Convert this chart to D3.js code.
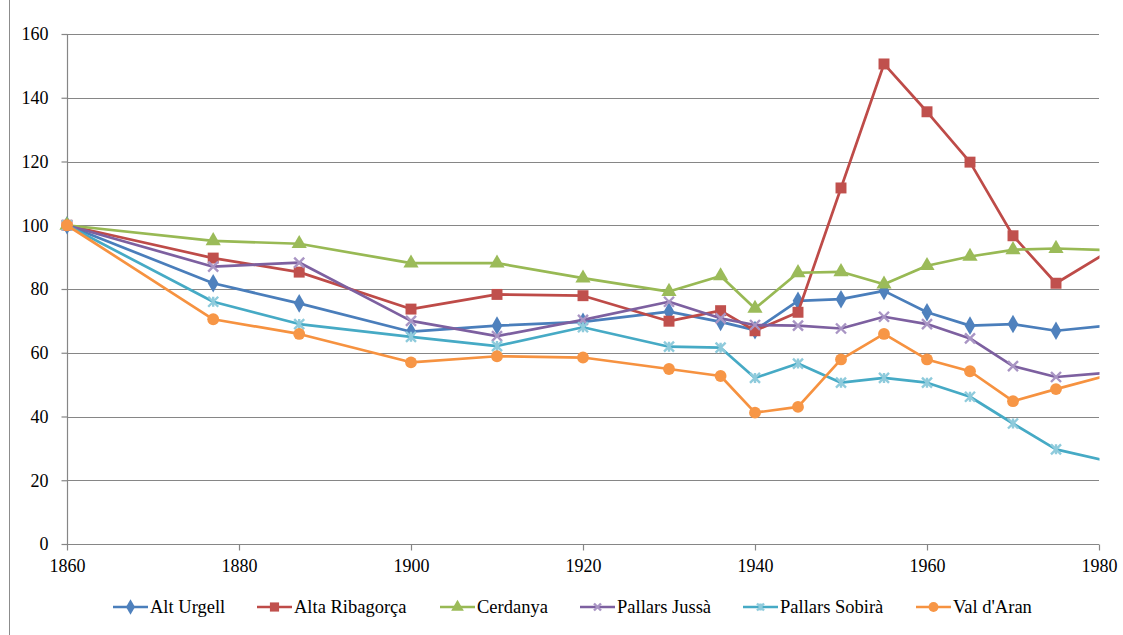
<!DOCTYPE html>
<html>
<head>
<meta charset="utf-8">
<script src="https://cdn.jsdelivr.net/npm/d3@7"></script>
<style>
  body { margin: 0; }
  .serif { font-family: "Liberation Serif", "Times New Roman", Tinos, serif; fill: #000; }
</style>
</head>
<body>
<div id="viz"></div>
<script>
const years = [1860, 1877, 1887, 1900, 1910, 1920, 1930, 1936, 1940, 1945, 1950, 1955, 1960, 1965, 1970, 1975, 1981];

const altUrgell      = [100, 81.8, 75.5, 66.6, 68.5, 69.7, 72.9, 69.7, 67.1, 76.3, 76.8, 79.4, 72.7, 68.5, 69.0, 66.9, 68.5];
const altaRibagorca  = [100, 89.7, 85.3, 73.7, 78.3, 77.9, 69.9, 73.2, 66.9, 72.7, 111.7, 150.6, 135.6, 119.8, 96.7, 81.8, 91.6];
const cerdanya       = [100, 95.1, 94.2, 88.1, 88.1, 83.4, 79.2, 84.1, 73.9, 85.1, 85.4, 81.5, 87.3, 90.2, 92.3, 92.7, 92.2];
const pallarsJussa   = [100, 87.0, 88.3, 70.0, 65.2, 70.3, 76.0, 70.8, 68.7, 68.5, 67.6, 71.3, 69.0, 64.5, 55.8, 52.4, 53.7];
const pallarsSobira  = [100, 76.0, 69.0, 65.0, 62.1, 68.0, 61.9, 61.6, 52.1, 56.6, 50.6, 52.1, 50.6, 46.2, 37.8, 29.7, 26.0];
const valDAran       = [100, 70.5, 65.9, 57.0, 58.9, 58.5, 54.9, 52.7, 41.2, 43.0, 57.9, 65.9, 57.9, 54.2, 44.8, 48.6, 52.9];

const seriesNames = ["Alt Urgell", "Alta Ribagorça", "Cerdanya", "Pallars Jussà", "Pallars Sobirà", "Val d'Aran"];
const seriesValues = [altUrgell, altaRibagorca, cerdanya, pallarsJussa, pallarsSobira, valDAran];
const xTicks = [1860, 1880, 1900, 1920, 1940, 1960, 1980];
const yTicks = [0, 20, 40, 60, 80, 100, 120, 140, 160];

const lineColors   = ["#4A7EBB", "#BE4B48", "#98B954", "#7D60A0", "#46AAC5", "#F69240"];
const markerColors = ["#4F81BD", "#C0504D", "#9BBB59", "#A995C4", "#8FCBDC", "#F79646"];
const markerTypes  = ["diamond", "square", "triangle", "x", "star", "circle"];

// legend item left edges (layout)
const legendOffsets = [113, 257, 440, 580, 743, 916];

const W = 1123, H = 635;
const plotLeft = 67, plotRight = 1099, plotTop = 34, plotBottom = 544;

// text is set large and scaled down
const BASE = 28;

const svg = d3.select("#viz").append("svg")
  .attr("width", W).attr("height", H);

// outer chart border (left edge visible)
svg.append("line")
  .attr("x1", 9.5).attr("x2", 9.5).attr("y1", 0).attr("y2", H)
  .attr("stroke", "#8C8C8C").attr("stroke-width", 1);

const x = d3.scaleLinear().domain([1860, 1980]).range([plotLeft, plotRight]);
const y = d3.scaleLinear().domain([0, 160]).range([plotBottom, plotTop]);

const axisColor = "#868686";

// gridlines
svg.append("g")
  .selectAll("line")
  .data(yTicks.filter(d => d > 0))
  .join("line")
  .attr("x1", plotLeft).attr("x2", plotRight)
  .attr("y1", d => Math.round(y(d)) + 0.5).attr("y2", d => Math.round(y(d)) + 0.5)
  .attr("stroke", axisColor).attr("stroke-width", 1.2);

function serifText(sel, size) {
  const s = size / BASE;
  sel.each(function () {
    const t = d3.select(this);
    const tx = +t.attr("x") || 0, ty = +t.attr("y") || 0;
    t.attr("class", "serif")
      .attr("font-family", "Liberation Serif")
      .attr("font-size", BASE)
      .style("font-size", BASE + "px")
      .attr("x", tx / s).attr("y", ty / s)
      .attr("transform", `scale(${s})`)
      .attr("fill", "#000");
  });
}

// y axis
const yAxis = svg.append("g")
  .attr("transform", `translate(${plotLeft + 0.5},0)`)
  .call(d3.axisLeft(y).tickValues(yTicks).tickSize(6).tickPadding(13));
yAxis.attr("font-family", "Liberation Serif").attr("font-size", BASE);
yAxis.selectAll("line, path").attr("stroke", axisColor).attr("stroke-width", 1.2);
yAxis.select(".domain").attr("d", `M0,${plotTop}V${plotBottom}`);
serifText(yAxis.selectAll("text"), 18);

// x axis
const xAxis = svg.append("g")
  .attr("transform", `translate(0,${plotBottom + 0.5})`)
  .call(d3.axisBottom(x).tickValues(xTicks).tickFormat(d3.format("d")).tickSize(6).tickPadding(9));
xAxis.attr("font-family", "Liberation Serif").attr("font-size", BASE);
xAxis.selectAll("line, path").attr("stroke", axisColor).attr("stroke-width", 1.2);
xAxis.select(".domain").attr("d", `M${plotLeft},0H${plotRight}`);
serifText(xAxis.selectAll("text"), 18);

// clip to plot area
svg.append("clipPath").attr("id", "plotclip")
  .append("rect").attr("x", plotLeft - 10).attr("y", 0).attr("width", plotRight - plotLeft + 10.5).attr("height", H);

const plot = svg.append("g").attr("clip-path", "url(#plotclip)");

const line = d3.line().x(d => x(d.year)).y(d => y(d.value));

function drawMarker(g, type, i, size) {
  const c = markerColors[i];
  if (type === "diamond") {
    g.append("path").attr("d", d3.symbol(d3.symbolDiamond, size * 10)()).attr("fill", c);
  } else if (type === "square") {
    g.append("path").attr("d", d3.symbol(d3.symbolSquare, size * 12)()).attr("fill", c);
  } else if (type === "triangle") {
    g.append("path").attr("d", d3.symbol(d3.symbolTriangle, size * 10)()).attr("fill", c);
  } else if (type === "circle") {
    g.append("path").attr("d", d3.symbol(d3.symbolCircle, size * 11)()).attr("fill", c);
  } else if (type === "x") {
    const r = size / 2;
    g.append("path").attr("d", `M${-r},${-r}L${r},${r}M${-r},${r}L${r},${-r}`)
      .attr("stroke", c).attr("stroke-width", 2.4).attr("fill", "none");
  } else if (type === "star") {
    const r = size / 2;
    g.append("path").attr("d", `M${-r},${-r}L${r},${r}M${-r},${r}L${r},${-r}M0,${-r}V${r}`)
      .attr("stroke", c).attr("stroke-width", 2.4).attr("fill", "none");
  }
}

seriesValues.forEach((vals, i) => {
  const pts = years.map((yr, k) => ({ year: yr, value: vals[k] }));
  plot.append("path")
    .datum(pts)
    .attr("d", line)
    .attr("fill", "none")
    .attr("stroke", lineColors[i])
    .attr("stroke-width", 2.7)
    .attr("stroke-linejoin", "round");
  pts.forEach(p => {
    const g = plot.append("g").attr("transform", `translate(${x(p.year)},${y(p.value)})`);
    drawMarker(g, markerTypes[i], i, 10);
  });
});

// legend
const legend = svg.append("g").attr("transform", "translate(0,607)");
seriesNames.forEach((name, i) => {
  const g = legend.append("g").attr("transform", `translate(${legendOffsets[i]},0)`);
  g.append("line").attr("x1", 0).attr("x2", 35).attr("y1", 0).attr("y2", 0)
    .attr("stroke", lineColors[i]).attr("stroke-width", 2.7);
  const mg = g.append("g").attr("transform", "translate(17.5,0)");
  drawMarker(mg, markerTypes[i], i, 7);
  const t = g.append("text").attr("x", 37).attr("y", 6).text(name);
  serifText(t, 18.5);
});
</script>
</body>
</html>
